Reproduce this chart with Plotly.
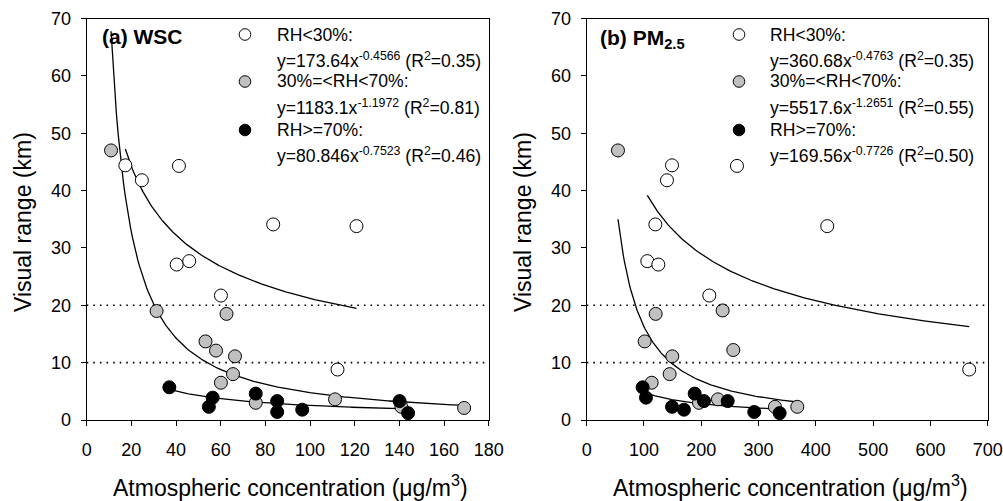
import numpy as np
import plotly.graph_objects as go

# ---------------- data ----------------
# Panel (a) WSC
wsc_low_x = [17.3, 24.7, 41.3, 83.5, 120.8, 40.3, 45.9, 60.1, 112.3]
wsc_low_y = [44.4, 41.8, 44.3, 34.1, 33.8, 27.1, 27.7, 21.7, 8.8]
wsc_mid_x = [10.9, 31.3, 62.6, 53.2, 57.9, 66.4, 65.5, 60.1, 75.7, 111.2, 140.9, 169.0]
wsc_mid_y = [47.0, 19.0, 18.5, 13.7, 12.1, 11.1, 8.0, 6.5, 3.0, 3.6, 2.3, 2.1]
wsc_high_x = [37.0, 56.4, 54.7, 75.7, 85.3, 85.3, 96.5, 140.1, 143.9]
wsc_high_y = [5.7, 3.9, 2.3, 4.6, 3.3, 1.4, 1.8, 3.3, 1.2]

# Panel (b) PM2.5
pm_low_x = [148.9, 140.1, 262.3, 119.8, 419.9, 105.8, 125.0, 214.0, 667.7]
pm_low_y = [44.4, 41.8, 44.3, 34.1, 33.8, 27.7, 27.1, 21.7, 8.8]
pm_mid_x = [54.6, 120.4, 237.3, 101.2, 255.9, 149.4, 144.8, 113.4, 229.1, 196.0, 328.6, 367.6]
pm_mid_y = [47.0, 18.5, 19.1, 13.7, 12.2, 11.1, 8.0, 6.5, 3.6, 3.0, 2.3, 2.3]
pm_high_x = [97.7, 103.5, 148.9, 169.8, 188.5, 204.7, 246.1, 292.5, 336.8]
pm_high_y = [5.7, 3.9, 2.3, 1.8, 4.6, 3.3, 3.3, 1.4, 1.2]

# Power-law fits y = a * x^b, as printed on the chart
wsc_fit_a = [173.64, 1183.1, 80.846]
wsc_fit_b = [-0.4566, -1.1972, -0.7523]
wsc_fit_r2 = ["0.35", "0.81", "0.46"]
pm_fit_a = [360.68, 5517.6, 169.56]
pm_fit_b = [-0.4763, -1.2651, -0.7726]
pm_fit_r2 = ["0.35", "0.55", "0.50"]

group_names = ["RH<30%:", "30%=<RH<70%:", "RH>=70%:"]
group_fill = ["white", "#c0c0c0", "black"]

x_ticks_a = [0, 20, 40, 60, 80, 100, 120, 140, 160, 180]
x_ticks_b = [0, 100, 200, 300, 400, 500, 600, 700]
y_ticks = [0, 10, 20, 30, 40, 50, 60, 70]
ref_lines = [10, 20]

# ---------------- figure ----------------
W, H = 1003, 501
FONT = "Liberation Sans, Arial, sans-serif"

def px_x(p):
    return p / W

def px_y(p):
    return 1 - p / H

fig = go.Figure()

panels = [
    dict(xa="x", ya="y", groups=[(wsc_low_x, wsc_low_y), (wsc_mid_x, wsc_mid_y), (wsc_high_x, wsc_high_y)],
         a=wsc_fit_a, b=wsc_fit_b, r2=wsc_fit_r2),
    dict(xa="x2", ya="y2", groups=[(pm_low_x, pm_low_y), (pm_mid_x, pm_mid_y), (pm_high_x, pm_high_y)],
         a=pm_fit_a, b=pm_fit_b, r2=pm_fit_r2),
]

for p in panels:
    # fitted curves
    for (gx, gy), a, b in zip(p["groups"], p["a"], p["b"]):
        xs = np.linspace(min(gx), max(gx), 200)
        fig.add_trace(go.Scatter(x=xs, y=a * xs ** b, mode="lines",
                                 line=dict(color="black", width=1.3),
                                 xaxis=p["xa"], yaxis=p["ya"], showlegend=False, hoverinfo="skip"))
    # points
    for (gx, gy), fill in zip(p["groups"], group_fill):
        fig.add_trace(go.Scatter(x=gx, y=gy, mode="markers",
                                 marker=dict(size=13, color=fill, line=dict(color="black", width=1)),
                                 xaxis=p["xa"], yaxis=p["ya"], showlegend=False))

XA = (86.7, 488.7)
XB = (586.7, 987.7)
YP = (18.5, 420)
dom_a = [px_x(XA[0]), px_x(XA[1])]
dom_b = [px_x(XB[0]), px_x(XB[1])]
dom_y = [px_y(YP[1]), px_y(YP[0])]

axis_common = dict(showline=True, linecolor="black", linewidth=1, mirror=True, automargin=False,
                   ticks="outside", ticklen=5, tickcolor="black", showgrid=False, zeroline=False,
                   tickfont=dict(family=FONT, size=18, color="black"))

fig.update_layout(
    width=W, height=H, autosize=False,
    margin=dict(l=0, r=0, t=0, b=0),
    paper_bgcolor="white", plot_bgcolor="white",
    showlegend=False,
    xaxis=dict(domain=dom_a, range=[0, 180], tickvals=x_ticks_a, anchor="y", ticklabelstandoff=8, **axis_common),
    yaxis=dict(domain=dom_y, range=[0, 70], tickvals=y_ticks, anchor="x", ticklabelstandoff=6, **axis_common),
    xaxis2=dict(domain=dom_b, range=[0, 700], tickvals=x_ticks_b, anchor="y2", ticklabelstandoff=8, **axis_common),
    yaxis2=dict(domain=dom_y, range=[0, 70], tickvals=y_ticks, anchor="x2", ticklabelstandoff=6, **axis_common),
)

# axis titles
title_font = dict(family=FONT, size=23, color="black")
xtitle = "Atmospheric concentration (\u03bcg/m<sup>3</sup>)"
for xd, ytx in [(XA, 23), (XB, 523)]:
    fig.add_annotation(text=xtitle, xref="paper", yref="paper", x=px_x((xd[0] + xd[1]) / 2 + 3),
                       y=px_y(486), xanchor="center", yanchor="middle", showarrow=False, font=title_font)
    fig.add_annotation(text="Visual range (km)", xref="paper", yref="paper", x=px_x(ytx),
                       y=px_y(222), xanchor="center", yanchor="middle", textangle=-90,
                       showarrow=False, font=title_font)

# dotted reference lines
for xr, yr in [("x", "y"), ("x2", "y2")]:
    for v in ref_lines:
        fig.add_shape(type="line", xref=xr + " domain", yref=yr, x0=0, x1=1, y0=v, y1=v,
                      line=dict(color="black", width=1.6, dash="1.6px,5px"))

# panel labels
fig.add_annotation(text="<b>(a) WSC</b>", xref="paper", yref="paper", x=px_x(100), y=px_y(36),
                   xanchor="left", yanchor="middle", showarrow=False,
                   font=dict(family=FONT, size=21, color="black"))
fig.add_annotation(text="<b>(b) PM<sub>2.5</sub></b>", xref="paper", yref="paper", x=px_x(598), y=px_y(39),
                   xanchor="left", yanchor="middle", showarrow=False,
                   font=dict(family=FONT, size=21, color="black"))

# custom legends
leg_font = dict(family=FONT, size=17.6, color="black")
for p, gx0, tx0 in [(panels[0], 245, 275), (panels[1], 739, 768)]:
    glyph_y = [34.5, 81.5, 130]
    line2_y = [59.5, 107, 155]
    for i in range(3):
        r = 5.8
        fig.add_shape(type="circle", xref="paper", yref="paper",
                      x0=px_x(gx0 - r), x1=px_x(gx0 + r), y0=px_y(glyph_y[i] + r), y1=px_y(glyph_y[i] - r),
                      fillcolor=group_fill[i], line=dict(color="black", width=1))
        fig.add_annotation(text=group_names[i], xref="paper", yref="paper", x=px_x(tx0), y=px_y(glyph_y[i]),
                           xanchor="left", yanchor="middle", showarrow=False, font=leg_font)
        eq = "y=%sx<sup>%s</sup> (R<sup>2</sup>=%s)" % (p["a"][i], p["b"][i], p["r2"][i])
        fig.add_annotation(text=eq, xref="paper", yref="paper", x=px_x(tx0), y=px_y(line2_y[i]),
                           xanchor="left", yanchor="middle", showarrow=False, font=leg_font)

fig.write_html("out.html", config={"displayModeBar": False},
               post_script="document.body.style.margin='0';document.body.style.overflow='hidden';")
